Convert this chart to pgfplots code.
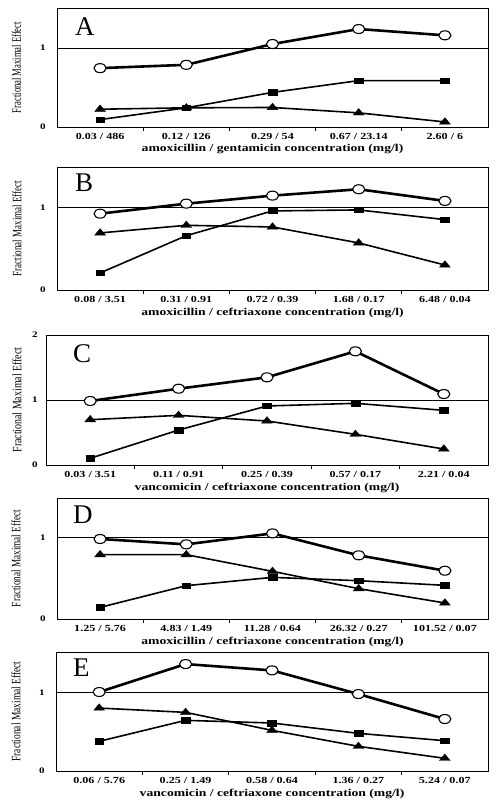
\documentclass[border=0pt]{standalone}
\usepackage{fontspec}
\setmainfont{Liberation Serif}
\newfontfamily\wideserif[FakeStretch=1.3]{Liberation Serif}
\usepackage{graphicx}
\usepackage{pgfplots}
\pgfplotsset{compat=1.18}

\newcommand{\ylab}[1]{\resizebox{#1}{9pt}{Fractional Maximal Effect}}

\pgfplotsset{
 panel/.style={
  scale only axis, anchor=north west,
  xmin=-0.5, xmax=4.5, ymin=0,
  xtick={0,1,2,3,4}, minor xtick={0.5,1.5,2.5,3.5},
  tick pos=left, major tick length=0pt, minor tick length=3.5pt, tick align=outside,
  minor tick style={line width=0.8pt, black},
  axis line style={line width=0.8pt},
  xticklabel style={anchor=center, yshift=-9.5pt, font=\wideserif\bfseries\fontsize{9.3}{10}\selectfont},
  yticklabel style={anchor=center, font=\wideserif\bfseries\fontsize{8.5}{9}\selectfont},
  xlabel style={at={(axis description cs:0.5,0)}, anchor=center, yshift=-22.5pt, font=\wideserif\bfseries\fontsize{10.5}{11}\selectfont},
  ylabel style={anchor=center},
  ytick={0,1}, yticklabels={0,1},
 },
 circ/.style={black, line width=2.6pt, mark=*, mark size=4.5pt, mark options={solid, fill=white, draw=black, line width=1.1pt, xscale=1.35}},
 sq/.style={black, line width=1.6pt, mark=square*, mark size=2.7pt, mark options={solid, line width=0.4pt, xscale=1.6}},
 tri/.style={black, line width=1.6pt, mark=triangle*, mark size=4.3pt, mark options={solid, line width=0.4pt, xscale=1.45}},
 one/.style={black, line width=0.8pt, no marks},
}
\tikzset{letter/.style={anchor=base west, inner sep=0pt, font=\fontsize{27}{27}\selectfont}}

\begin{document}
\begin{tikzpicture}
\path[use as bounding box] (0pt,0pt) rectangle (499pt,-806pt);

% ---------- A ----------
\begin{axis}[panel, at={(57pt,-8pt)}, width=431pt, height=119pt, ymax=1.506,
  yticklabel style={xshift=-14pt},
  xticklabels={0.03 / 486, 0.12 / 126, 0.29 / 54, 0.67 / 23.14, 2.60 / 6},
  xlabel={amoxicillin / gentamicin concentration (mg/l)},
  ylabel={\ylab{91pt}}, ylabel style={at={(axis description cs:-0.094,0.5)}}]
\addplot[one] coordinates {(-0.5,1) (4.5,1)};
\addplot[sq] coordinates {(0,0.094) (1,0.243) (2,0.438) (3,0.587) (4,0.587)};
\addplot[tri] coordinates {(0,0.225) (1,0.243) (2,0.247) (3,0.179) (4,0.064)};
\addplot[circ] coordinates {(0,0.745) (1,0.787) (2,1.05) (3,1.24) (4,1.16)};
\node[letter] at (rel axis cs:0.0418,0.773) {A};
\end{axis}

% ---------- B ----------
\begin{axis}[panel, at={(57pt,-167pt)}, width=431pt, height=123pt, ymax=1.487,
  yticklabel style={xshift=-14pt},
  xticklabels={0.08 / 3.51, 0.31 / 0.91, 0.72 / 0.39, 1.68 / 0.17, 6.48 / 0.04},
  xlabel={amoxicillin / ceftriaxone concentration (mg/l)},
  ylabel={\ylab{95pt}}, ylabel style={at={(axis description cs:-0.0928,0.5)}}]
\addplot[one] coordinates {(-0.5,1) (4.5,1)};
\addplot[sq] coordinates {(0,0.206) (1,0.657) (2,0.956) (3,0.968) (4,0.851)};
\addplot[tri] coordinates {(0,0.690) (1,0.782) (2,0.762) (3,0.569) (4,0.302)};
\addplot[circ] coordinates {(0,0.923) (1,1.044) (2,1.141) (3,1.218) (4,1.077)};
\node[letter] at (rel axis cs:0.0418,0.797) {B};
\end{axis}

% ---------- C ----------
\begin{axis}[panel, at={(46pt,-335pt)}, width=442pt, height=130pt, ymax=2,
  ytick={0,1,2}, yticklabels={0,1,2}, yticklabel style={xshift=-11pt},
  xticklabels={0.03 / 3.51, 0.11 / 0.91, 0.25 / 0.39, 0.57 / 0.17, 2.21 / 0.04},
  xlabel={vancomicin / ceftriaxone concentration (mg/l)},
  ylabel={\ylab{105pt}}, ylabel style={at={(axis description cs:-0.0656,0.5)}}]
\addplot[one] coordinates {(-0.5,1) (4.5,1)};
\addplot[sq] coordinates {(0,0.103) (1,0.538) (2,0.908) (3,0.949) (4,0.841)};
\addplot[tri] coordinates {(0,0.697) (1,0.764) (2,0.677) (3,0.472) (4,0.246)};
\addplot[circ] coordinates {(0,0.985) (1,1.174) (2,1.349) (3,1.749) (4,1.092)};
\node[letter] at (rel axis cs:0.061,0.792) {C};
\end{axis}

% ---------- D ----------
\begin{axis}[panel, at={(57pt,-498pt)}, width=431pt, height=121pt, ymax=1.488,
  yticklabel style={xshift=-14pt},
  xticklabels={1.25 / 5.76, 4.83 / 1.49, 11.28 / 0.64, 26.32 / 0.27, 101.52 / 0.07},
  xlabel={amoxicillin / ceftriaxone concentration (mg/l)},
  ylabel={\ylab{97pt}}, ylabel style={at={(axis description cs:-0.095,0.5)}}]
\addplot[one] coordinates {(-0.5,1) (4.5,1)};
\addplot[sq] coordinates {(0,0.143) (1,0.410) (2,0.512) (3,0.471) (4,0.414)};
\addplot[tri] coordinates {(0,0.791) (1,0.791) (2,0.586) (3,0.373) (4,0.197)};
\addplot[circ] coordinates {(0,0.984) (1,0.918) (2,1.053) (3,0.783) (4,0.594)};
\node[letter] at (rel axis cs:0.037,0.793) {D};
\end{axis}

% ---------- E ----------
\begin{axis}[panel, at={(56pt,-652pt)}, width=432pt, height=119pt, ymax=1.52,
  yticklabel style={xshift=-14pt},
  xticklabels={0.06 / 5.76, 0.25 / 1.49, 0.58 / 0.64, 1.36 / 0.27, 5.24 / 0.07},
  xlabel={vancomicin / ceftriaxone concentration (mg/l)},
  ylabel={\ylab{100pt}}, ylabel style={at={(axis description cs:-0.0926,0.5)}}]
\addplot[one] coordinates {(-0.5,1) (4.5,1)};
\addplot[sq] coordinates {(0,0.379) (1,0.647) (2,0.613) (3,0.481) (4,0.387)};
\addplot[tri] coordinates {(0,0.804) (1,0.749) (2,0.519) (3,0.315) (4,0.162)};
\addplot[circ] coordinates {(0,1.009) (1,1.366) (2,1.285) (3,0.983) (4,0.664)};
\node[letter] at (rel axis cs:0.039,0.79) {E};
\end{axis}
\end{tikzpicture}
\end{document}
